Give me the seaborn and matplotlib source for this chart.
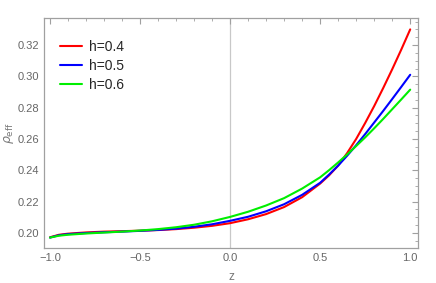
import numpy as np
import pandas as pd
import matplotlib
matplotlib.use("Agg")
import matplotlib.pyplot as plt
from matplotlib.ticker import MultipleLocator
import seaborn as sns

# values
z = [-1.0, -0.95, -0.9, -0.8, -0.7, -0.6, -0.5, -0.4, -0.3, -0.2, -0.1,
     0.0, 0.1, 0.2, 0.3, 0.4, 0.5, 0.55, 0.6, 0.65, 0.7, 0.75, 0.8, 0.85, 0.9, 0.95, 1.0]
rho_h04 = [0.1972, 0.1988, 0.1995, 0.2003, 0.2008, 0.2011, 0.2014, 0.2018, 0.2024, 0.2033, 0.2045,
           0.2062, 0.2087, 0.2120, 0.2165, 0.2228, 0.2315, 0.2368, 0.2430, 0.2510, 0.2600,
           0.2702, 0.2810, 0.2925, 0.3045, 0.3170, 0.3300]
rho_h05 = [0.1970, 0.1985, 0.1992, 0.1999, 0.2004, 0.2008, 0.2013, 0.2019, 0.2027, 0.2039, 0.2055,
           0.2077, 0.2103, 0.2138, 0.2183, 0.2243, 0.2320, 0.2373, 0.2430, 0.2493, 0.2560,
           0.2631, 0.2705, 0.2779, 0.2855, 0.2932, 0.3010]
rho_h06 = [0.1970, 0.1982, 0.1988, 0.1996, 0.2002, 0.2008, 0.2015, 0.2024, 0.2036, 0.2052, 0.2074,
           0.2102, 0.2135, 0.2175, 0.2222, 0.2283, 0.2355, 0.2401, 0.2450, 0.2501, 0.2555,
           0.2610, 0.2668, 0.2728, 0.2790, 0.2852, 0.2915]
labels = ["h=0.4", "h=0.5", "h=0.6"]
colors = ["#ff0000", "#0000ff", "#00ee00"]

df = pd.concat([
    pd.DataFrame({"z": z, "rho": vals, "h": lab})
    for vals, lab in zip([rho_h04, rho_h05, rho_h06], labels)
])

sns.set_style("white")
plt.rcParams["font.family"] = ["Liberation Sans", "DejaVu Sans"]

fig = plt.figure(figsize=(4.36, 2.83), dpi=100)
ax = fig.add_axes([0.101, 0.124, 0.858, 0.812])

ax.axvline(0, color="#c8c8c8", lw=0.9, zorder=0)
sns.lineplot(data=df, x="z", y="rho", hue="h", palette=colors, lw=1.5,
             sort=False, ax=ax)

ax.set_xlim(-1.033, 1.044)
ax.set_ylim(0.1904, 0.3372)
ax.xaxis.set_major_locator(MultipleLocator(0.5))
ax.xaxis.set_minor_locator(MultipleLocator(0.1))
ax.yaxis.set_major_locator(MultipleLocator(0.02))
ax.yaxis.set_minor_locator(MultipleLocator(0.005))
ax.xaxis.set_major_formatter(lambda v, p: f"{v:.1f}".replace("-", "\u2212"))
ax.yaxis.set_major_formatter(lambda v, p: f"{v:.2f}")

gray = "#a0a0a0"
for s in ax.spines.values():
    s.set_color(gray)
    s.set_linewidth(0.9)
ax.tick_params(which="both", direction="in", top=True, right=True,
               color=gray, labelcolor="#666666", labelsize=8)
ax.tick_params(which="major", length=4, width=0.8)
ax.tick_params(which="minor", length=2, width=0.6)

ax.set_xlabel("z", color="#777777", fontsize=8.5, labelpad=6)
ax.set_ylabel(r"$\rho_{\mathrm{eff}}$", color="#777777", fontsize=9, labelpad=1)

ax.legend(frameon=False, loc="upper left", bbox_to_anchor=(0.01, 0.96),
          fontsize=10, handlelength=1.6, handletextpad=0.5, labelspacing=0.35)

fig.savefig("out.png", dpi=100)
